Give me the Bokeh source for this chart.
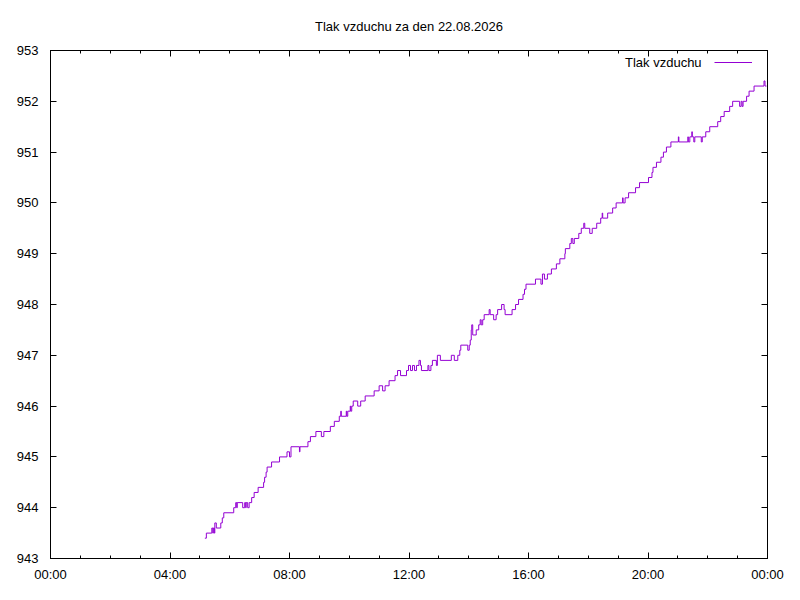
from bokeh.plotting import figure
from bokeh.models import (FixedTicker, LinearAxis, Legend, LegendItem,
                          ColumnDataSource, Range1d)
from bokeh.embed import file_html
from bokeh.resources import INLINE

title_text = "Tlak vzduchu za den 22.08.2026"
series_name = "Tlak vzduchu"

# change points of the pressure reading (time HH:MM, hPa)
times = [
    "05:10", "05:13", "05:24", "05:26", "05:27", "05:29", "05:30", "05:33", "05:42", "05:45",
    "05:48", "06:08", "06:12", "06:14", "06:15", "06:26", "06:30", "06:32", "06:33", "06:36",
    "06:39", "06:44", "06:49", "06:57", "07:08", "07:10", "07:13", "07:15", "07:24", "07:40",
    "07:55", "08:00", "08:03", "08:20", "08:21", "08:37", "08:42", "08:53", "09:04", "09:09",
    "09:22", "09:30", "09:40", "09:43", "09:44", "09:54", "09:55", "09:57", "10:02", "10:03",
    "10:05", "10:08", "10:17", "10:23", "10:32", "10:50", "11:00", "11:07", "11:12", "11:20",
    "11:32", "11:37", "11:43", "11:55", "11:59", "12:03", "12:07", "12:11", "12:15", "12:20",
    "12:23", "12:25", "12:38", "12:40", "12:44", "12:47", "12:55", "12:57", "13:03", "13:25",
    "13:31", "13:38", "13:42", "13:44", "13:58", "14:01", "14:03", "14:05", "14:06", "14:08",
    "14:15", "14:20", "14:23", "14:25", "14:28", "14:31", "14:41", "14:43", "14:50", "14:55",
    "14:58", "15:06", "15:11", "15:13", "15:27", "15:34", "15:40", "15:49", "15:52", "15:55",
    "16:14", "16:25", "16:28", "16:32", "16:38", "16:46", "16:56", "17:03", "17:13", "17:14",
    "17:23", "17:26", "17:29", "17:32", "17:41", "17:46", "17:51", "17:53", "18:03", "18:08",
    "18:17", "18:25", "18:28", "18:29", "18:39", "18:49", "18:56", "19:09", "19:10", "19:14",
    "19:21", "19:35", "19:43", "20:01", "20:08", "20:10", "20:17", "20:26", "20:31", "20:37",
    "20:46", "21:01", "21:02", "21:20", "21:21", "21:24", "21:28", "21:29", "21:32", "21:34",
    "21:47", "21:49", "21:56", "22:04", "22:20", "22:26", "22:33", "22:44", "22:50", "23:04",
    "23:07", "23:09", "23:11", "23:18", "23:23", "23:33", "23:53", "23:55", "23:58",
]
pressure = [
    943.4, 943.5, 943.6, 943.5, 943.6, 943.5, 943.7, 943.6, 943.7, 943.8,
    943.9, 944.0, 944.1, 944.0, 944.1, 944.0, 944.1, 944.0, 944.1, 944.0,
    944.1, 944.2, 944.3, 944.4, 944.5, 944.6, 944.7, 944.8, 944.9, 945.0,
    945.1, 945.0, 945.2, 945.1, 945.2, 945.3, 945.4, 945.5, 945.4, 945.5,
    945.6, 945.7, 945.8, 945.9, 945.8, 945.9, 945.8, 945.9, 946.0, 945.9,
    946.0, 946.1, 946.0, 946.1, 946.2, 946.3, 946.4, 946.3, 946.4, 946.5,
    946.6, 946.7, 946.6, 946.7, 946.8, 946.7, 946.8, 946.7, 946.8, 946.9,
    946.8, 946.7, 946.8, 946.7, 946.8, 946.9, 946.8, 947.0, 946.9, 947.0,
    946.9, 947.0, 947.1, 947.2, 947.1, 947.2, 947.3, 947.5, 947.6, 947.4,
    947.5, 947.6, 947.7, 947.6, 947.7, 947.8, 947.9, 947.8, 947.7, 947.8,
    947.9, 948.0, 947.9, 947.8, 947.9, 948.0, 948.1, 948.2, 948.3, 948.4,
    948.5, 948.4, 948.6, 948.5, 948.6, 948.7, 948.8, 948.9, 949.0, 949.1,
    949.2, 949.3, 949.2, 949.3, 949.4, 949.5, 949.6, 949.5, 949.4, 949.5,
    949.6, 949.7, 949.8, 949.7, 949.8, 949.9, 950.0, 950.1, 950.0, 950.1,
    950.2, 950.3, 950.4, 950.5, 950.6, 950.7, 950.8, 950.9, 951.0, 951.1,
    951.2, 951.3, 951.2, 951.3, 951.2, 951.3, 951.4, 951.3, 951.2, 951.3,
    951.2, 951.3, 951.4, 951.5, 951.6, 951.7, 951.8, 951.9, 952.0, 951.9,
    952.0, 951.9, 952.0, 952.1, 952.2, 952.3, 952.4, 952.3, 952.3,
]

x_tick_hours = [0, 4, 8, 12, 16, 20, 24]
x_tick_labels = ["00:00", "04:00", "08:00", "12:00", "16:00", "20:00", "00:00"]
x_minor_hours = list(range(0, 25))
y_ticks = [943, 944, 945, 946, 947, 948, 949, 950, 951, 952, 953]

FONT = "Liberation Sans"
LINE_COLOR = "#9400D3"


def to_hours(s):
    h, m = s.split(":")
    return int(h) + int(m) / 60.0


src = ColumnDataSource(data=dict(t=[to_hours(s) for s in times], v=pressure))

W, H = 784, 584
BL, BR, BT, BB = 50, 17, 49, 24
FW, FH = W - BL - BR, H - BT - BB

p = figure(width=W, height=H, output_backend="svg", toolbar_location=None,
           x_range=Range1d(0, 24), y_range=Range1d(943, 953),
           min_border_left=BL, min_border_right=BR,
           min_border_top=BT, min_border_bottom=BB,
           background_fill_color="white", border_fill_color="white")

p.title.text = title_text
p.title.align = "center"
p.title.text_font = FONT
p.title.text_font_size = "13px"
p.title.text_font_style = "normal"
p.title.text_color = "black"
p.title.standoff = 33

p.xgrid.visible = False
p.ygrid.visible = False
p.outline_line_color = "black"
p.outline_line_alpha = 1.0
p.outline_line_width = 1


def style_axis(ax, show_labels):
    ax.axis_line_color = "black"
    ax.major_tick_line_color = "black"
    ax.minor_tick_line_color = "black"
    ax.major_tick_in = 6
    ax.major_tick_out = 0
    ax.minor_tick_in = 3
    ax.minor_tick_out = 0
    ax.major_label_text_font = FONT
    ax.major_label_text_color = "black"
    ax.major_label_text_font_size = "13px" if show_labels else "0px"


xt = FixedTicker(ticks=x_tick_hours, minor_ticks=x_minor_hours)
yt = FixedTicker(ticks=y_ticks, minor_ticks=[])

bx = p.xaxis[0]
bx.ticker = xt
bx.major_label_overrides = {h: lab for h, lab in zip(x_tick_hours, x_tick_labels)}
style_axis(bx, True)
bx.major_label_standoff = 8

ly = p.yaxis[0]
ly.ticker = yt
style_axis(ly, True)
ly.major_label_standoff = 12

top = LinearAxis(ticker=FixedTicker(ticks=x_tick_hours, minor_ticks=x_minor_hours))
style_axis(top, False)
top.major_label_overrides = {h: "" for h in x_tick_hours}
top.major_label_standoff = 0
p.add_layout(top, "above")

right = LinearAxis(ticker=FixedTicker(ticks=y_ticks, minor_ticks=[]))
style_axis(right, False)
right.major_label_overrides = {v: "" for v in y_ticks}
right.major_label_standoff = 0
p.add_layout(right, "right")

r = p.step(x="t", y="v", source=src, mode="after",
           line_color=LINE_COLOR, line_width=1)

# gnuplot-style key: the label first, then the line sample to its right
common = dict(orientation="vertical", border_line_color=None,
              background_fill_alpha=0, padding=0, spacing=0, margin=0,
              label_text_font=FONT, label_text_font_size="13px",
              label_text_color="black", label_height=16, glyph_height=16)
key_text = Legend(items=[LegendItem(label=series_name, renderers=[r])],
                  location=(FW - 142, FH - 23), glyph_width=0,
                  label_standoff=0, **common)
key_line = Legend(items=[LegendItem(label=" ", renderers=[r])],
                  location=(FW - 53, FH - 23), glyph_width=38,
                  label_standoff=0, **common)
p.add_layout(key_text, "center")
p.add_layout(key_line, "center")

open("out.html", "w").write(file_html(p, INLINE))
